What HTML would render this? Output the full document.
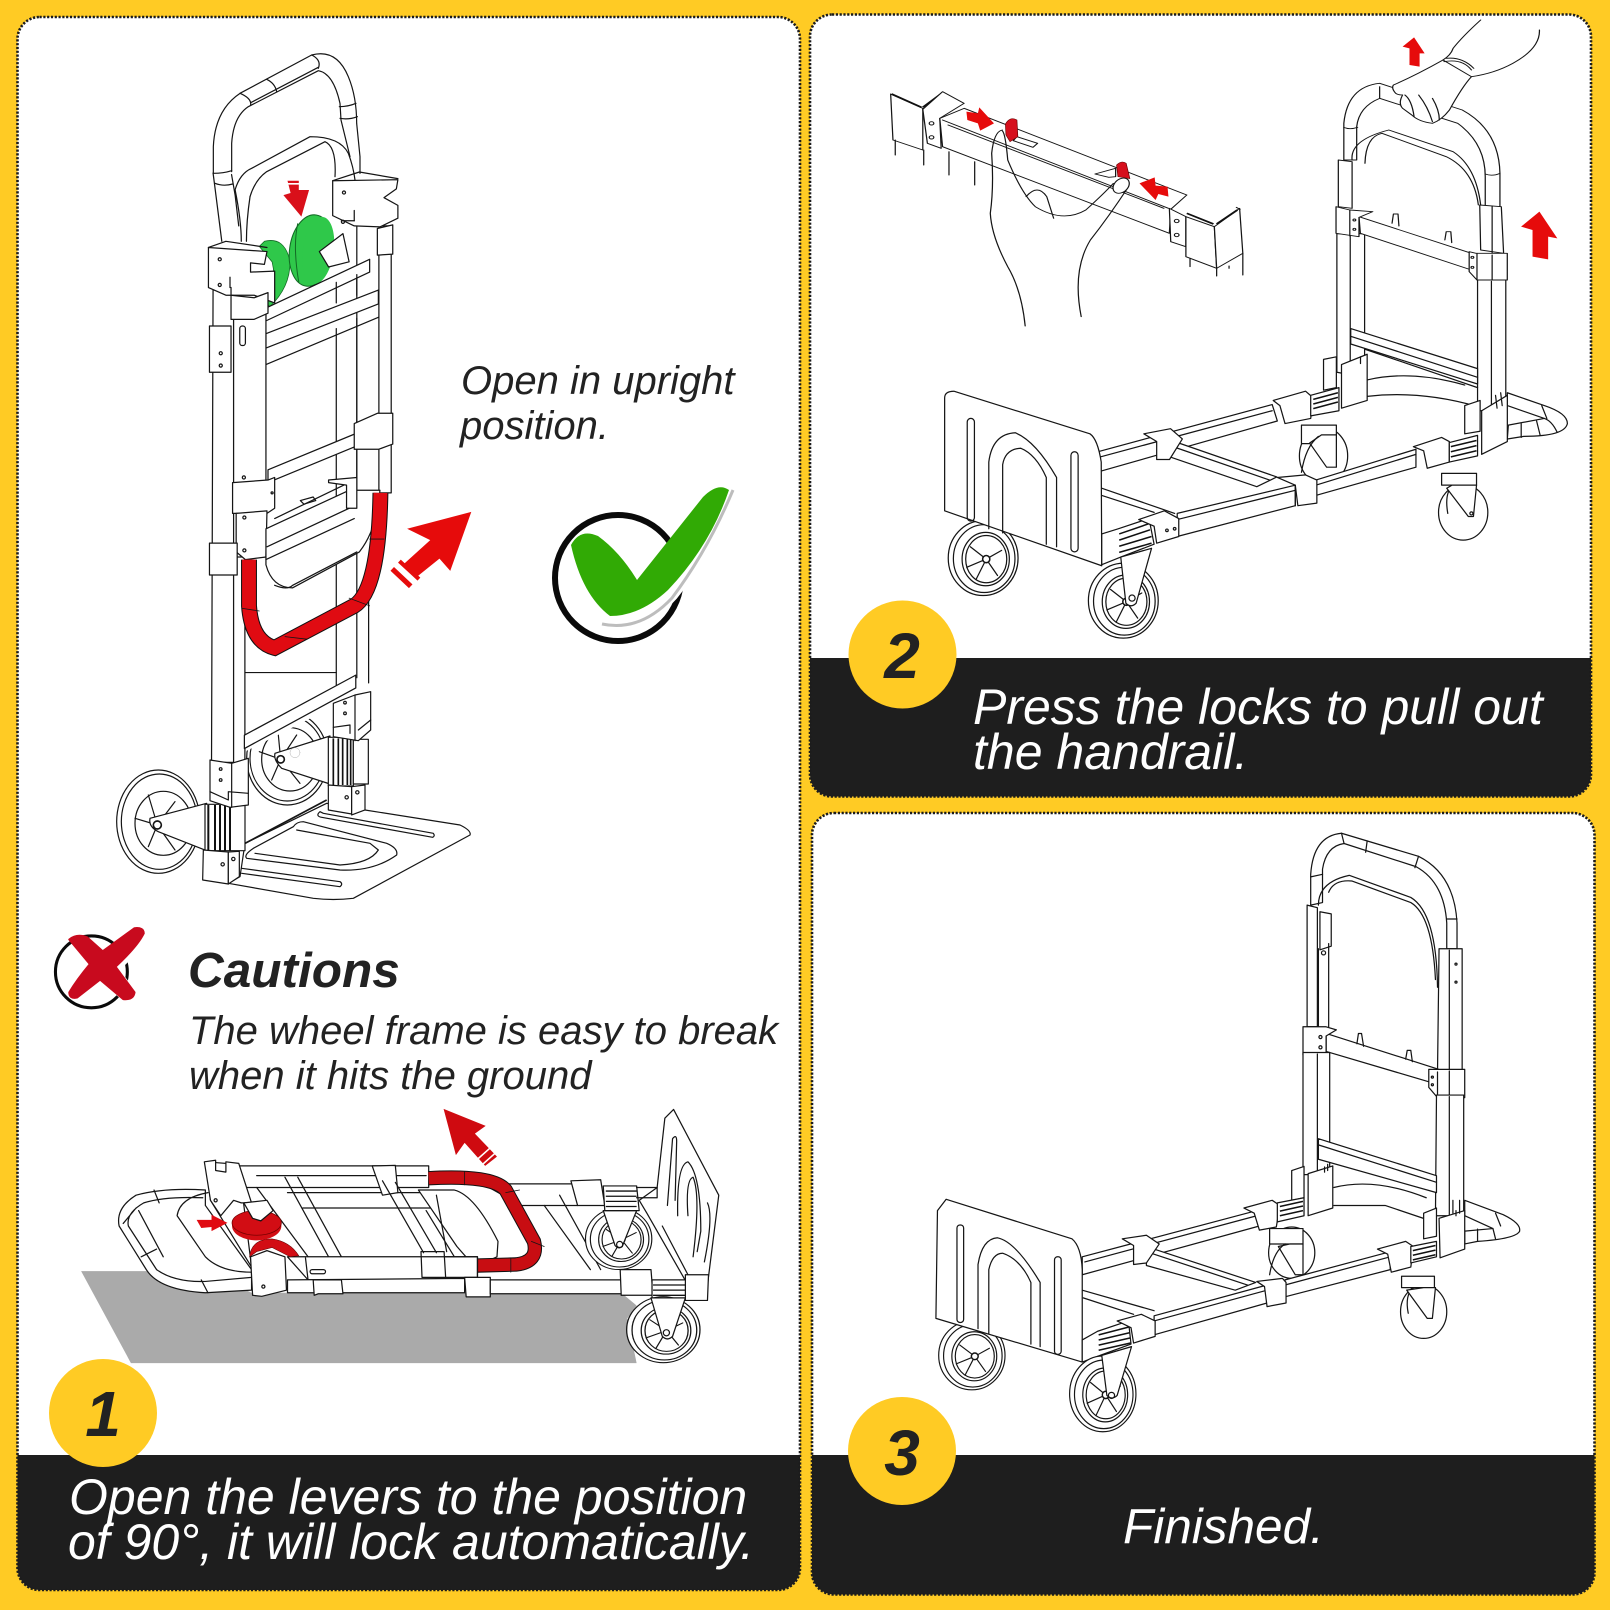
<!DOCTYPE html>
<html lang="en"><head><meta charset="utf-8"><title>Hand truck instructions</title>
<style>
html,body{margin:0;padding:0;background:#ffcb24}
svg{display:block}
.l{fill:none;stroke:#151515;stroke-width:2.4;stroke-linejoin:round;stroke-linecap:round}
.w{fill:#fff;stroke:#151515;stroke-width:2.4;stroke-linejoin:round}
.z1 .l,.z1 .w{stroke-width:3.6}
.z2 .l,.z2 .w{stroke-width:2.7}
.t{font-family:"Liberation Sans",Arial,sans-serif;font-style:italic;font-size:40px;fill:#222}
.b{font-size:50px;fill:#fff}
.n{font-weight:bold;font-size:64px;fill:#222;text-anchor:middle}
</style></head><body>
<svg width="1610" height="1610" viewBox="0 0 1610 1610" xmlns="http://www.w3.org/2000/svg">
<defs>
<clipPath id="c1"><rect x="17.5" y="17" width="782.5" height="1573" rx="22"/></clipPath>
<clipPath id="c2"><rect x="810" y="14.5" width="781" height="782" rx="22"/></clipPath>
<clipPath id="c3"><rect x="812" y="813" width="782.5" height="781.5" rx="22"/></clipPath>
<clipPath id="cw"><polygon points="435,215 690,85 690,360 435,490"/></clipPath>
<g id="wheel">
<ellipse class="w" rx="68" ry="73"/>
<ellipse class="l" cx="2" cy="1" rx="60" ry="66"/>
<ellipse class="l" cx="5" cy="2" rx="46" ry="52"/>
<ellipse class="l" cx="6" cy="2" rx="40" ry="46"/>
<path class="l" d="M6 2L-25-22M6 2L36-15M6 2L28 34M6 2L-14 42M6 2L-32 18"/>
<circle cx="6" cy="2" r="7" fill="#fff" stroke="#151515" stroke-width="3"/>
</g>
</defs>

<rect width="1610" height="1610" fill="#ffcb24"/>

<!-- PANEL BACKGROUNDS -->
<g clip-path="url(#c1)"><rect x="17.5" y="17" width="783" height="1573" fill="#fff"/><rect x="17" y="1455" width="784" height="136" fill="#1e1e1e"/></g>
<g clip-path="url(#c2)"><rect x="810" y="14" width="782" height="783" fill="#fff"/><rect x="810" y="658" width="782" height="139" fill="#1e1e1e"/></g>
<g clip-path="url(#c3)"><rect x="812" y="813" width="783" height="782" fill="#fff"/><rect x="812" y="1455" width="783" height="140" fill="#1e1e1e"/></g>
<g fill="none" stroke="#1c1c1c" stroke-width="2.6" stroke-dasharray="2.2 1.6">
<rect x="17.5" y="17" width="782.5" height="1573" rx="22"/>
<rect x="810" y="14.5" width="781" height="782" rx="22"/>
<rect x="812" y="813" width="782.5" height="781.5" rx="22"/>
</g>

<!-- upright truck handle -->
<g class="z1" transform="translate(180,40) scale(.33333)">
<path class="l" d="M100 400V320Q105 210 180 160L395 45Q470 25 505 110Q530 170 530 250L540 350V400"/>
<path class="l" d="M155 395V310Q160 230 205 200L415 92Q460 100 480 190L483 240L510 350"/>
<path class="l" d="M180 160Q215 175 212 195M260 118Q285 130 290 155M395 45Q425 60 415 85M478 200Q505 200 528 190M480 235Q505 240 532 230M100 400Q130 400 155 392M105 430Q130 440 158 432M212 188L415 82"/>
<path class="l" d="M165 450Q180 400 215 385L390 290Q480 290 505 340Q520 380 525 420M210 470Q225 420 260 395L435 305Q470 320 465 410"/>
</g>

<!-- QUADRANT 1 : upright truck -->
<g transform="scale(.5134)">
<path class="l" d="M415 337L418 360L432 470M451 340L458 380L465 440M458 370Q470 430 470 470M487 383Q480 430 480 470"/>
<path class="w" d="M695 440H762V960H695z"/>
<path class="l" d="M738 445V960M655 640V1340M695 620V1320M718 1120V1330"/>
<!-- green lock -->
<path d="M515 470Q555 460 565 510Q565 560 525 598L520 590Q540 550 530 510L505 480Z" fill="#2fc84a" stroke="#136b25" stroke-width="1.5"/>
<ellipse cx="606" cy="488" rx="42" ry="70" transform="rotate(8 606 488)" fill="#2fc84a" stroke="#136b25" stroke-width="2"/>
<ellipse cx="620" cy="488" rx="30" ry="66" transform="rotate(8 620 488)" fill="#2fc84a"/>
<path d="M580 435Q570 480 582 550" fill="none" stroke="#136b25" stroke-width="2"/>
<path class="w" d="M622 490L668 455L680 510L640 520Z"/>
<path class="w" d="M648 352L775 350L772 368L748 385L775 400V425L740 442L690 440L648 420Z"/>
<path class="l" d="M648 352L700 335L775 348M665 430H690"/>
<circle class="l" cx="670" cy="375" r="3"/><circle class="l" cx="668" cy="432" r="3"/><path class="l" d="M690 410V430"/>
<path class="w" d="M735 445L765 438V495L735 497Z"/>
<path class="w" d="M518 600L720 505V530L518 625Z"/>
<path class="w" d="M518 650L737 565V592L518 678Z"/>
<path class="l" d="M518 710L737 618"/>
<path class="l" d="M655 550V590M695 535V575"/>
<path class="w" d="M415 565H455V1485H412Z"/>
<path class="w" d="M455 600H518V940H455Z"/>
<path class="w" d="M455 1085H477V1490H455Z"/>
<path class="w" d="M408 635H450V725H408Z"/>
<circle class="l" cx="430" cy="688" r="3"/><circle class="l" cx="430" cy="712" r="3"/>
<rect class="l" x="467" y="635" width="11" height="38" rx="5"/>
<circle class="l" cx="475" cy="930" r="3"/>
<path class="w" d="M406 482L520 490L515 515L488 512V530L535 528V590L495 575H440L406 560Z"/>
<path class="l" d="M406 482L440 470L520 482M450 560V575"/>
<circle class="l" cx="428" cy="505" r="3"/><circle class="l" cx="428" cy="555" r="3"/><path class="l" d="M448 540V560"/>
<path class="w" d="M450 575L495 580L522 570V610L495 622H450Z"/>
<path class="w" d="M522 915L728 830V855L522 940Z"/>
<path class="w" d="M690 825L735 805L765 805V865L738 875H690Z"/>
<path class="w" d="M453 940L522 935L535 930V990L520 1000H453Z"/>
<circle class="l" cx="530" cy="960" r="2"/>
<path class="w" d="M460 1000L520 995L518 1085L478 1090L460 1075Z"/>
<circle class="l" cx="476" cy="1008" r="3"/><circle class="l" cx="476" cy="1072" r="3"/>
<path class="w" d="M408 1058H462V1120H408Z"/>
<path class="w" d="M518 1030L680 955L740 955Q735 1030 700 1075L570 1145Q530 1145 518 1100Z"/>
<path class="l" d="M535 1010L690 935M520 1065L680 990M518 1090L690 1010M535 1140Q560 1150 570 1140L695 1075"/>
<path class="w" d="M640 935L695 930V990L675 990V945L640 940Z"/>
<path class="l" d="M585 975L610 968L615 975L592 982Z"/>
<path d="M485 1090V1180Q490 1250 535 1262L690 1180Q738 1150 741 960" fill="none" stroke="#111" stroke-width="31"/>
<path d="M485 1090V1180Q490 1250 535 1262L690 1180Q738 1150 741 960" fill="none" stroke="#e00b12" stroke-width="27"/>
<path class="l" d="M472 1185L505 1190M555 1240L598 1245M680 1165L720 1180M720 1050L748 1050" style="stroke-width:1.5"/>
<path class="l" d="M478 1310H655"/>
<path class="w" d="M476 1432L693 1315V1340L476 1458Z"/>
<polygon points="918,997 793,1030 838,1052 785,1100 810,1125 856,1088 877,1112" fill="#e60b0b"/>
<path d="M772 1094L812 1134" stroke="#fff" stroke-width="5"/>
<path d="M764 1108L800 1142" stroke="#e60b0b" stroke-width="10"/>
<path d="M778 1093L816 1128" stroke="#e60b0b" stroke-width="8"/>
<polygon points="560,352 582,352 582,370 602,370 587,422 552,380 566,376" fill="#d9101a"/>
<path d="M556 347H584M556 358H584" stroke="#fff" stroke-width="3"/>
</g>

<!-- lower part of upright truck -->
<g class="z1" transform="translate(100,680) scale(.33333)">
<path class="w" d="M420 590L385 610L640 655Q700 662 760 655L1110 465Q1115 452 1080 435L795 390L680 370L435 490Z"/>
<path class="l" d="M670 400L1000 460Q1006 468 998 472L665 412Q645 408 660 395ZM460 505Q430 525 440 535L720 570Q820 575 890 525Q895 505 860 490L610 425Q590 425 580 440ZM465 520L720 555Q810 550 835 510L810 490L590 450M425 565L720 605Q730 612 720 620L425 580"/>
<path d="M435 490L680 360" stroke="#151515" stroke-width="5" fill="none"/>
<g clip-path="url(#cw)">
<ellipse class="w" cx="562" cy="235" rx="122" ry="140"/>
<ellipse class="l" cx="562" cy="235" rx="112" ry="128"/>
<ellipse class="l" cx="570" cy="238" rx="85" ry="95"/>
<path class="l" d="M542 238L535 165M542 238L590 165M542 238L478 215M542 238L515 300M542 238L600 310"/>
</g>
<path class="w" d="M525 220L690 168V312L545 265Q520 240 525 220Z"/>
<circle cx="542" cy="238" r="11" fill="#fff" stroke="#151515" stroke-width="5"/>
<circle class="l" cx="585" cy="218" r="15" style="stroke-width:1;stroke:#888"/>
<path class="w" d="M685 172H760V318H685Z"/>
<path class="w" d="M760 178H805V312H760Z"/>
<path d="M700 175V315M715 175V315M728 175V315M742 175V315M752 175V315" stroke="#111" stroke-width="5"/>
<path class="w" d="M700 70L765 45L812 35V150L775 182L700 170Z"/>
<path class="l" d="M765 45V182M700 142L750 135V160M775 150L812 120"/>
<circle class="l" cx="735" cy="68" r="4"/><circle class="l" cx="735" cy="100" r="4"/>
<path class="w" d="M685 315L755 320V402L685 390Z"/>
<path class="w" d="M755 320L795 315V390L755 405Z"/>
<circle class="l" cx="740" cy="352" r="5"/><circle class="l" cx="772" cy="337" r="5"/>
<ellipse class="w" cx="175" cy="425" rx="125" ry="155"/>
<ellipse class="l" cx="178" cy="425" rx="114" ry="143"/>
<ellipse class="l" cx="190" cy="430" rx="85" ry="96"/>
<path class="l" d="M172 435L145 345M172 435L225 365M172 435L105 415M172 435L145 500M172 435L225 510"/>
<path class="w" d="M150 415L320 370V512L175 455Q145 440 150 415Z"/>
<circle cx="172" cy="435" r="12" fill="#fff" stroke="#151515" stroke-width="5"/>
<path class="w" d="M315 373H435V512H315Z"/>
<path d="M325 375V512M345 375V512M360 375V512M375 375V512M390 375V512" stroke="#111" stroke-width="6"/>
<path class="w" d="M330 240L395 250L445 235V375L390 382L330 362Z"/>
<path class="l" d="M395 250V382M330 335L385 360V335L445 340"/>
<circle class="l" cx="362" cy="267" r="4"/><circle class="l" cx="362" cy="300" r="4"/>
<path class="w" d="M310 510L385 516V612L308 600Z"/>
<path class="w" d="M385 516L418 514V590L385 612Z"/>
<circle class="l" cx="368" cy="553" r="5"/><circle class="l" cx="400" cy="537" r="5"/>
</g>

<!-- check mark -->
<circle cx="618" cy="578" r="63" fill="none" stroke="#0a0a0a" stroke-width="6"/>
<path d="M733 490Q708 550 672 595Q640 630 602 622" fill="none" stroke="#fff" stroke-width="12"/>
<path d="M733 490Q708 550 672 598Q640 632 602 624" fill="none" stroke="#bdbdbd" stroke-width="3"/>
<path d="M571 545Q580 528 598 536Q620 552 637 580L703 497Q718 482 729 490Q710 546 668 590Q640 616 610 616Q582 595 571 545Z" fill="#31aa05"/>
<text class="t" x="461" y="394">Open in upright</text>
<text class="t" x="460" y="439">position.</text>

<!-- QUADRANT 3 lower left -->
<g transform="translate(0,805) scale(.5134)">
<path d="M158 908H400L490 950H1210L1240 975L1222 1000L1240 1087H255Z" fill="#aaa"/>
<circle cx="178" cy="325" r="70" fill="none" stroke="#0a0a0a" stroke-width="6"/>
<path d="M135 262Q150 250 170 258L200 285L262 240Q280 238 280 250Q268 275 225 315L262 365Q260 380 240 378L195 340L150 375Q135 378 135 365Q150 340 175 310Z" fill="#fff" stroke="#fff" stroke-width="4" transform="translate(6,6)"/>
<path d="M135 262Q150 250 170 258L200 285L262 240Q280 238 280 250Q268 275 225 315L262 365Q260 380 240 378L195 340L150 375Q135 378 135 365Q150 340 175 310Z" fill="#c80a1e" stroke="#c80a1e" stroke-width="4" stroke-linejoin="round"/>
<path class="w" d="M400 780V750Q320 745 265 760Q225 785 232 820L285 905Q310 945 400 950L490 945L490 905L400 780Z"/>
<path class="l" d="M395 765Q320 762 280 775Q245 795 250 820L305 905Q340 930 400 928L490 920M345 800L400 880Q430 910 490 910M345 800Q350 765 405 755M300 750L310 775M265 785L240 815M275 880L305 865M392 925L405 950M270 790L318 880"/>
<path class="w" d="M400 695L465 700L490 900L410 770Z"/>
<path class="w" d="M465 703H835V745H465Z"/>
<path class="l" d="M500 722H830M500 745L600 880M555 725L640 880M580 725L665 880M560 755H830M590 785H890"/>
<path class="w" d="M725 703L770 702L775 755L745 760Z"/>
<path class="l" d="M745 732L825 872M770 735L850 872"/>
<path class="w" d="M815 750H885Q925 760 970 850L968 880L925 900L890 860Z"/>
<path class="l" d="M830 790L885 880M850 760L870 870"/>
<path class="w" d="M940 738H1125V780H1015Z"/>
<path class="l" d="M1060 780L1150 905M1090 760L1170 905"/>
<use href="#wheel" transform="translate(1205,845) scale(.95,.82)"/>
<path class="w" d="M1175 790L1240 790L1212 860Q1205 866 1198 858Z"/>
<circle class="l" cx="1207" cy="856" r="6"/>
<path class="w" d="M1312 593L1400 760L1378 935H1340L1260 795L1245 770L1280 745L1295 610Z"/>
<path class="l" d="M1300 780L1310 650Q1318 640 1318 655L1315 770M1320 800Q1318 700 1340 695Q1365 720 1365 830L1358 870M1340 800Q1335 730 1350 725Q1365 760 1350 880M1378 775Q1390 800 1372 890M1290 820L1340 915"/>
<path class="w" d="M1112 732L1170 730L1178 780H1125Z"/>
<path class="w" d="M1175 742H1240L1245 790H1178Z"/>
<path d="M1180 752H1240M1180 762H1240M1180 772H1240M1180 782H1240" stroke="#111" stroke-width="2.5"/>
<path class="l" d="M1240 745H1280V765H1240"/>
<path d="M835 727Q960 720 985 750L1040 850Q1050 890 1005 895L930 897" fill="none" stroke="#111" stroke-width="28"/>
<path d="M835 727Q960 720 985 750L1040 850Q1050 890 1005 895L930 897" fill="none" stroke="#c80d12" stroke-width="24"/>
<path class="l" d="M905 714V740M985 755L1012 750M1035 850L1060 860M995 882V910" style="stroke-width:1.5"/>
<path class="w" d="M560 880H930V925H600Z"/>
<path class="l" d="M595 882L600 925M820 870H865L868 920H822ZM865 880H930V920H868"/>
<rect class="l" x="604" y="905" width="30" height="8" rx="4"/>
<path class="w" d="M560 925L905 922V950H560Z"/>
<path class="w" d="M905 920H955V958H908Z"/>
<path class="w" d="M955 925H1210V952H955Z"/>
<path class="w" d="M610 925L665 925L668 952H620L612 955Z"/>
<path class="w" d="M1208 905H1268L1272 955L1210 955Z"/>
<path class="w" d="M1270 925L1340 925L1338 965H1270Z"/>
<path d="M1272 935H1338M1272 945H1338M1272 955H1338" stroke="#111" stroke-width="2.5"/>
<path class="w" d="M1335 915L1380 915L1378 965H1335Z"/>
<use href="#wheel" transform="translate(1292,1022) scale(1.05,.88)"/>
<path class="w" d="M1268 960L1335 960L1310 1035Q1300 1045 1290 1035Z"/>
<circle class="l" cx="1298" cy="1028" r="6"/>
<path class="w" d="M398 695L420 692V712L440 715V695L465 698L490 775L470 775L455 770L430 800L410 770Z"/>
<circle class="l" cx="420" cy="770" r="3"/>
<path d="M486 880Q490 845 530 845Q565 850 582 878L565 880L530 862L500 870Z" fill="#d20d14" stroke="#5a0000" stroke-width="1"/>
<ellipse cx="500" cy="820" rx="48" ry="28" fill="#d20d14"/>
<ellipse cx="500" cy="814" rx="48" ry="24" fill="#d20d14" stroke="#700" stroke-width="1.5"/>
<path class="w" d="M475 775L520 770L532 790L508 810L492 805Z"/>
<path class="w" d="M488 880L520 868L555 880L558 945L510 957L492 955Z"/>
<circle class="l" cx="513" cy="938" r="3"/>
<polygon points="383,808 412,808 412,798 443,814 412,830 412,822 392,824" fill="#e00b12"/>
<polygon points="864,592 946,625 925,640 968,685 945,703 905,658 888,682" fill="#cf0a10"/>
<path d="M930 690L958 665M940 700L968 675" stroke="#fff" stroke-width="3"/>
</g>
<text class="t" x="188" y="987" style="font-size:49.5px;font-weight:bold">Cautions</text>
<text class="t" x="189" y="1044">The wheel frame is easy to break</text>
<text class="t" x="189" y="1089">when it hits the ground</text>

<!-- QUADRANT 2 lower truck -->
<g transform="translate(805,0) scale(.5134)">
<path class="w" d="M1036 455H1090V735L1036 725Z"/>
<path class="l" d="M1062 458V740"/>
<path class="w" d="M1310 545H1365V800H1310Z"/>
<path class="l" d="M1337 548V800"/>
<path class="w" d="M1063 640L1310 718V748L1063 670Z"/>
<path class="l" d="M1063 655L1310 735M1090 680L1310 755"/>
<path class="l" d="M1095 740Q1180 720 1285 750M1095 772Q1200 760 1310 792"/>
<path class="w" d="M1368 765L1440 790Q1485 805 1485 825Q1480 850 1400 850L1368 855L1370 828L1440 815L1368 790Z"/>
<path class="l" d="M1435 790L1445 815M1395 825V852M1425 820L1432 848M1440 815Q1455 820 1465 842"/>
<path class="w" d="M1010 700L1035 695V755L1010 760Z"/>
<path class="w" d="M1285 790L1315 780V840L1285 845Z"/>
<ellipse class="w" cx="1010" cy="888" rx="47" ry="55"/>
<path class="w" d="M967 828H1035V864H967Z"/>
<path class="w" d="M1006 847H1035V910H1016L983 863Z"/>
<path class="l" d="M967 920Q975 870 1000 850"/>
<ellipse class="w" cx="1282" cy="998" rx="48" ry="54"/>
<path class="l" d="M1252 1000Q1245 960 1262 945"/>
<path class="w" d="M1240 922H1308V945H1240Z"/>
<path class="w" d="M1285 945H1308L1302 1006H1292L1250 951L1260 945Z"/>
<circle class="l" cx="1298" cy="1000" r="3"/>
<path class="w" d="M570 880L910 788L920 820L575 918Z"/>
<path class="l" d="M575 890L910 800"/>
<path class="w" d="M711 857L919 929L880 948L711 890Z"/>
<path class="l" d="M711 868L905 935"/>
<path class="w" d="M660 845L712 835L735 855L710 895L685 895L685 860Z"/>
<path class="l" d="M575 950L720 1000M578 965L680 998"/>
<path class="w" d="M725 1000L955 945V985L725 1045Z"/>
<path class="l" d="M725 1012L955 955"/>
<path class="w" d="M995 935L1190 875V910L995 965Z"/>
<path class="l" d="M995 945L1190 885"/>
<path class="w" d="M920 930L975 925L997 935V980L960 985L955 945Z"/>
<path class="l" d="M955 945V985"/>
<path class="w" d="M912 780L975 762L990 775L985 815L935 825L925 790Z"/>
<path class="w" d="M985 770L1040 755L1040 800L985 810Z"/>
<path d="M990 778L1038 765M990 787L1038 774M990 796L1038 783" stroke="#111" stroke-width="3"/>
<path class="w" d="M1185 870L1240 852L1255 860L1255 900L1212 912L1205 878Z"/>
<path class="w" d="M1255 862L1310 848V888L1255 900Z"/>
<path d="M1258 870L1308 858M1258 880L1308 868M1258 890L1308 878" stroke="#111" stroke-width="3"/>
<path class="w" d="M1318 800L1368 770V860L1318 885Z"/>
<path class="l" d="M1345 770L1348 795M1355 765L1358 790"/>
<path class="w" d="M1045 710L1095 690V780L1045 795Z"/>
<path class="l" d="M1082 695V708"/>
<use href="#wheel" transform="translate(347,1087)"/>
<path class="w" d="M272 775Q272 762 290 762L555 845Q570 855 577 900L578 1102L272 995Z"/>
<rect class="l" x="316" y="815" width="14" height="200" rx="7"/>
<rect class="l" x="518" y="880" width="14" height="195" rx="7"/>
<path class="l" d="M358 1030V900Q365 845 410 843Q450 860 490 930V1065M385 1038V905Q390 875 420 873Q450 885 470 930V1060"/>
<path class="w" d="M578 1040L610 1030L670 1010L680 1060L615 1085L578 1100Z"/>
<path d="M612 1040L670 1020M612 1052L672 1032M612 1064L675 1045M612 1076L675 1058" stroke="#111" stroke-width="3"/>
<path class="w" d="M650 1012L700 995L728 1010V1045L685 1058L680 1025Z"/>
<circle class="l" cx="705" cy="1033" r="2.5"/><circle class="l" cx="720" cy="1030" r="2.5"/>
<use href="#wheel" transform="translate(620,1170)"/>
<path class="w" d="M615 1085L675 1068L645 1175Q635 1185 625 1175Z"/>
<circle class="l" cx="637" cy="1165" r="6"/>
</g>

<!-- QUADRANT 2 upper : lock bar + handle + hand -->
<g class="z2" transform="translate(870,20) scale(.45914,.33333)">
<path class="w" d="M45 222L115 265V390L50 360Z"/>
<path d="M47 222L112 262M115 262L158 218" stroke="#111" stroke-width="5" fill="none"/>
<path class="l" d="M55 360V405M117 390V435M172 395V465M228 425V495"/>
<path class="w" d="M115 268L158 215L205 250L152 295L155 385L125 370Z"/>
<circle class="l" cx="134" cy="310" r="5"/><circle class="l" cx="134" cy="352" r="5"/>
<path class="w" d="M152 295L205 265L690 525L655 568L652 640L158 380Z"/>
<path class="l" d="M158 300L650 565M170 315L640 565"/>
<path class="w" d="M320 350L365 370L355 382L312 362ZM490 462L535 445L535 470L520 472Z"/>
<path class="w" d="M652 565L688 590V680L655 665Z"/>
<circle class="l" cx="668" cy="603" r="5"/><circle class="l" cx="668" cy="645" r="5"/>
<path class="w" d="M688 590L750 620L755 745L688 710Z"/>
<path class="w" d="M750 620L805 565L812 700L755 745Z"/>
<path d="M690 580L748 612M755 612L800 570" stroke="#111" stroke-width="5" fill="none"/>
<path class="l" d="M697 715V740M755 745V768M812 700V765M798 562L806 568M782 738V745"/>
<path d="M295 312Q305 288 320 300L322 350L305 365L296 345Z" fill="#d60f1c" stroke="#600" stroke-width="1.5"/>
<path d="M537 435Q548 420 558 430L566 476L540 470Z" fill="#d60f1c" stroke="#600" stroke-width="1.5"/>
<path class="l" d="M288 330Q270 335 265 400Q270 500 262 580Q265 650 300 740Q330 810 338 918M288 332Q295 340 300 420Q330 520 360 560Q420 610 470 570Q510 520 530 490M563 500Q520 590 480 660Q440 750 460 890M340 530Q365 490 385 530L400 595"/>
<ellipse class="w" cx="547" cy="497" rx="16" ry="24" transform="rotate(25 547 497)"/>
<polygon points="210,275 235,280 238,262 270,310 240,332 235,310 212,300" fill="#e60b0b"/>
<polygon points="648,500 622,497 620,472 587,490 622,540 628,522 650,530" fill="#e60b0b"/>
<polygon points="1160,80 1185,52 1208,100 1197,100 1197,140 1175,135 1175,85" fill="#e60b0b"/>
<polygon points="1418,620 1458,575 1497,655 1477,650 1477,718 1443,710 1443,630" fill="#e60b0b"/>
<path class="w" d="M1032 420V310Q1040 200 1110 190L1290 270Q1370 330 1372 460V560H1340V470Q1340 370 1280 310L1110 235Q1065 260 1060 320V420Z"/>
<path class="l" d="M1032 322Q1045 330 1062 322M1340 462Q1355 470 1372 460M1050 420Q1045 360 1130 330L1270 395Q1320 440 1330 555M1078 430Q1080 350 1115 340L1255 410Q1315 450 1325 555"/>
<path class="l" d="M1110 200V235"/>
<path class="w" d="M1140 195Q1135 205 1145 220Q1150 225 1160 225Q1150 250 1160 265L1180 285Q1195 305 1225 310Q1245 300 1262 270Q1290 200 1310 170L1248 120Q1190 165 1140 195Z"/>
<path class="l" d="M1330 0Q1290 50 1270 85Q1265 105 1248 120M1458 30Q1460 85 1400 130Q1360 160 1310 170M1165 225Q1180 240 1185 290M1195 225Q1215 260 1225 305M1225 235Q1240 270 1240 300M1250 125Q1290 115 1310 150M1255 115Q1290 110 1315 145"/>
<path class="w" d="M1020 420L1050 425V565L1020 560Z"/>
<path class="w" d="M1328 555L1375 560L1380 700L1330 690Z"/>
<path class="l" d="M1355 558V700"/>
<path class="w" d="M1065 590L1310 700V750L1068 640Z"/>
<path class="l" d="M1137 610L1140 582H1150L1152 618M1252 660L1255 635H1265L1267 668"/>
<path class="w" d="M1015 560L1045 570L1095 575L1065 592V650L1015 640Z"/>
<path class="l" d="M1045 570V648"/>
<circle class="l" cx="1055" cy="600" r="3"/><circle class="l" cx="1055" cy="628" r="3"/>
<path class="w" d="M1305 695L1320 700H1388V780H1322L1305 755Z"/>
<path class="l" d="M1322 700V780M1355 705V780"/>
<circle class="l" cx="1312" cy="712" r="3"/><circle class="l" cx="1312" cy="742" r="3"/>
</g>
<text class="t b" x="973" y="724">Press the locks to pull out</text>
<text class="t b" x="973" y="769">the handrail.</text>

<!-- QUADRANT 4 -->
<g transform="translate(805,805) scale(.5134)">
<path class="w" d="M985 195V135Q990 60 1045 55L1195 100Q1265 135 1270 230V280H1250V230Q1245 150 1190 120L1050 75Q1015 80 1008 125V190Z"/>
<path class="l" d="M1045 55L1050 75M1095 70L1092 92M1195 100L1188 122M985 140L1008 135M1250 222L1270 222"/>
<path class="l" d="M1000 195Q1000 150 1060 137L1180 180Q1230 210 1232 355M1020 170Q1030 145 1065 148L1180 190Q1222 215 1228 340"/>
<path class="w" d="M978 195L998 200V432H978Z"/>
<path class="w" d="M1003 208L1025 212V275L1003 282Z"/>
<circle class="l" cx="1010" cy="288" r="4"/>
<path class="l" d="M1000 280V432M1020 270V432"/>
<path class="w" d="M1235 280L1280 280V518L1232 520Z"/>
<path class="l" d="M1255 283V518"/><circle class="l" cx="1268" cy="310" r="2"/><circle class="l" cx="1268" cy="345" r="2"/>
<path class="w" d="M1015 445L1235 515V545L1015 480Z"/>
<path class="l" d="M1075 465L1078 445H1084L1088 470M1170 495L1173 478H1180L1183 500"/>
<path class="w" d="M970 432H1015L1035 438L1015 450V487H970Z"/>
<circle class="l" cx="1004" cy="452" r="3"/><circle class="l" cx="1004" cy="472" r="3"/>
<path class="w" d="M1215 515H1285V570H1232L1215 550Z"/>
<path class="l" d="M1255 518V570M1232 520V570"/><circle class="l" cx="1222" cy="530" r="2"/><circle class="l" cx="1222" cy="545" r="2"/>
<path class="w" d="M970 482H1022V720H970Z"/>
<path class="l" d="M998 485V720"/>
<path class="w" d="M1230 565H1283V800H1228Z"/>
<path class="l" d="M1255 568V800"/>
<path class="w" d="M1000 650L1230 722V755L1000 690Z"/>
<path class="l" d="M1000 662L1230 735"/>
<path class="l" d="M1030 745Q1110 725 1210 765M1030 780H1130L1225 812"/>
<path class="w" d="M1285 770L1360 798Q1395 815 1392 830Q1385 845 1310 850L1285 855V830L1340 825L1285 800Z"/>
<path class="l" d="M1345 795L1355 820M1310 826V850M1340 825L1345 845"/>
<path class="w" d="M948 712L972 704V765L948 770Z"/>
<path class="w" d="M1205 795L1230 785V840L1205 845Z"/>
<ellipse class="w" cx="948" cy="872" rx="45" ry="50"/>
<path class="w" d="M905 825H970V855H905Z"/>
<path class="w" d="M945 855H970V915H955L922 860Z"/>
<path class="l" d="M905 915Q912 870 935 855"/>
<ellipse class="w" cx="1205" cy="987" rx="45" ry="52"/>
<path class="l" d="M1175 990Q1168 955 1185 938"/>
<path class="w" d="M1162 918H1226V940H1162Z"/>
<path class="w" d="M1205 940H1228L1222 1000H1212L1172 945Z"/>
<path class="w" d="M540 880L880 790L885 820L540 915Z"/>
<path class="l" d="M545 890L880 800"/>
<path class="w" d="M665 860L878 930L838 945L665 897Z"/>
<path class="l" d="M665 870L862 935"/>
<path class="w" d="M618 845L665 838L690 855L665 892L640 895L640 858Z"/>
<path class="l" d="M540 945L680 985M542 960L640 992"/>
<path class="w" d="M680 995L900 935V970L680 1032Z"/>
<path class="l" d="M680 1005L900 945"/>
<path class="w" d="M935 925L1140 870V905L935 958Z"/>
<path class="l" d="M935 935L1140 880"/>
<path class="w" d="M880 928L930 922L937 930V970L900 977L895 938Z"/>
<path class="w" d="M855 785L910 770L925 780L918 822L885 828L875 795Z"/>
<path class="w" d="M920 775L972 765V800L920 812Z"/>
<path d="M925 782L970 772M925 791L970 781M925 800L970 790" stroke="#111" stroke-width="3"/>
<path class="w" d="M1115 865L1170 850L1185 860L1180 900L1142 910L1135 875Z"/>
<path class="w" d="M1180 860L1230 850V880L1180 892Z"/>
<path d="M1184 868L1228 858M1184 877L1228 867M1184 886L1228 876" stroke="#111" stroke-width="3"/>
<path class="w" d="M1235 805L1285 790V865L1237 882Z"/>
<path class="l" d="M1268 790V800M1275 770V795M1262 770V795"/>
<path class="w" d="M980 718L1028 703V785L980 800Z"/>
<path class="l" d="M1012 705V715M1018 700V712"/>
<use href="#wheel" transform="translate(325,1072) scale(.95,.92)"/>
<path class="w" d="M255 1000L258 790L275 768L520 845Q538 860 540 905V1085Z"/>
<rect class="l" x="296" y="818" width="13" height="190" rx="6"/>
<rect class="l" x="486" y="880" width="13" height="190" rx="6"/>
<path class="l" d="M337 1020V895Q345 845 375 843Q410 850 458 930V1055M358 1030V905Q365 873 385 873Q420 885 440 930V1050"/>
<path class="w" d="M540 1042L570 1025L630 1005L635 1050L575 1072L540 1085Z"/>
<path d="M572 1032L630 1017M572 1042L632 1028M572 1052L634 1038M572 1062L634 1048" stroke="#111" stroke-width="3"/>
<path class="w" d="M608 1005L655 992L682 1005V1035L640 1048L635 1018Z"/>
<use href="#wheel" transform="translate(580,1147) scale(.95,1.01)"/>
<path class="w" d="M578 1072L636 1055L608 1150Q598 1160 588 1150Z"/>
<circle class="l" cx="597" cy="1150" r="6"/>
</g>
<text class="t b" x="1123" y="1543" style="font-size:49.5px">Finished.</text>

<!-- BADGES -->
<circle cx="103" cy="1413" r="54" fill="#ffcb24"/>
<text class="t n" x="103" y="1436">1</text>
<circle cx="902.5" cy="654.5" r="54" fill="#ffcb24"/>
<text class="t n" x="902" y="678">2</text>
<circle cx="902" cy="1451" r="54" fill="#ffcb24"/>
<text class="t n" x="902" y="1475">3</text>

<text class="t b" x="69" y="1514">Open the levers to the position</text>
<text class="t b" x="68" y="1559">of 90°, it will lock automatically.</text>
</svg>
</body></html>
